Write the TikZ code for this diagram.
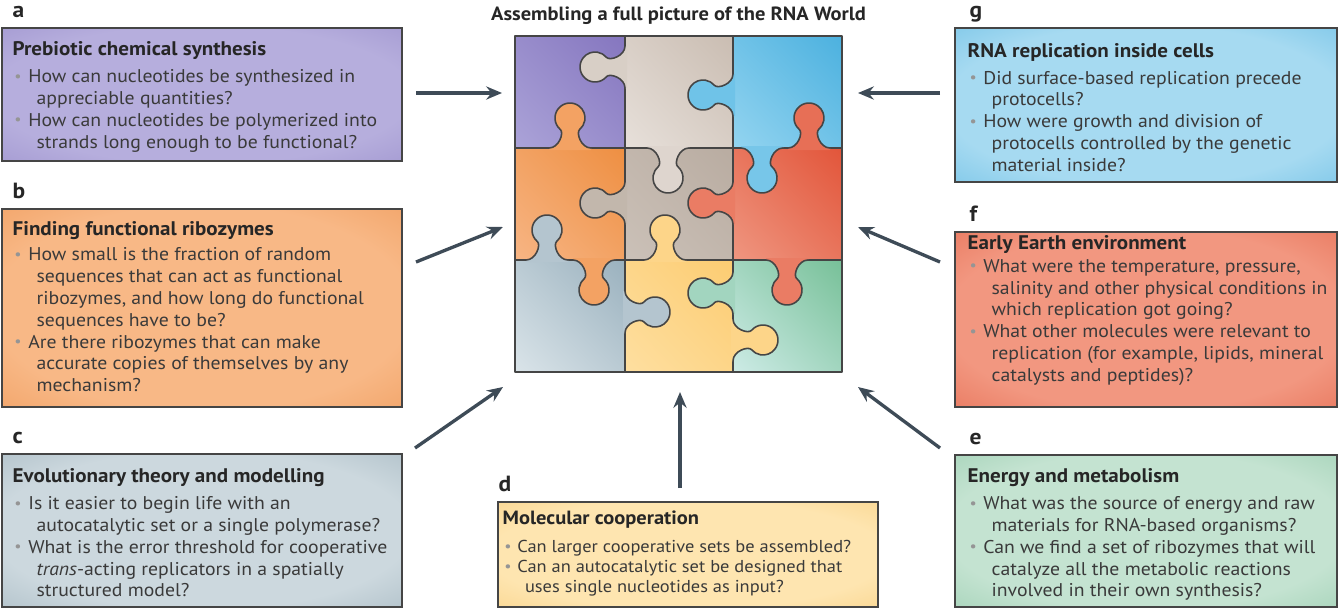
\documentclass[tikz,border=0pt]{standalone}
\usepackage{fontspec}
\setmainfont[FakeStretch=1.07]{PT Sans}
\usepackage{xcolor}
\definecolor{ink}{HTML}{262626}
\definecolor{bodyink}{HTML}{3A3A3A}
\definecolor{dotgray}{HTML}{959595}
\definecolor{rim}{HTML}{454545}
\definecolor{arrowgray}{HTML}{3E4B57}
% question boxes: centre / rim
\definecolor{purpleA}{HTML}{B6AEDD}\definecolor{purpleB}{HTML}{9185C6}
\definecolor{orangeA}{HTML}{F8B886}\definecolor{orangeB}{HTML}{EB8F4A}
\definecolor{slateA}{HTML}{CCD8DE}\definecolor{slateB}{HTML}{94A9B4}
\definecolor{yellowA}{HTML}{FEE5B0}\definecolor{yellowB}{HTML}{F6C872}
\definecolor{greenA}{HTML}{C4E3D1}\definecolor{greenB}{HTML}{88C4A2}
\definecolor{redA}{HTML}{F29780}\definecolor{redB}{HTML}{DF5A3E}
\definecolor{skyA}{HTML}{A6DAF1}\definecolor{skyB}{HTML}{56B4E0}
% puzzle cells: lower left / upper right
\definecolor{tlA}{HTML}{ABA3D8}\definecolor{tlB}{HTML}{8576BF}
\definecolor{tmA}{HTML}{E7E0DA}\definecolor{tmB}{HTML}{CABDB2}
\definecolor{trA}{HTML}{93D4F0}\definecolor{trB}{HTML}{4CB1DF}
\definecolor{mlA}{HTML}{F7B584}\definecolor{mlB}{HTML}{EE8F42}
\definecolor{mmA}{HTML}{CBC1B8}\definecolor{mmB}{HTML}{B9ACA1}
\definecolor{mrA}{HTML}{EF9680}\definecolor{mrB}{HTML}{E2553A}
\definecolor{blA}{HTML}{DAE4E9}\definecolor{blB}{HTML}{9AB1BE}
\definecolor{bmA}{HTML}{FEDFA0}\definecolor{bmB}{HTML}{FCCC72}
\definecolor{brA}{HTML}{CDEBE6}\definecolor{brB}{HTML}{77C098}
\usepackage{tikz}
\usetikzlibrary{positioning,arrows.meta,shadings}

% light middle, darker rim
\newcommand{\glow}[3]{\pgfdeclareradialshading{#1}{\pgfpointorigin}%
  {color(0bp)=(#2); color(26bp)=(#2); color(50bp)=(#3); color(72bp)=(#3)}}
\glow{glowa}{purpleA}{purpleB}
\glow{glowb}{orangeA}{orangeB}
\glow{glowc}{slateA}{slateB}
\glow{glowd}{yellowA}{yellowB}
\glow{glowe}{greenA}{greenB}
\glow{glowf}{redA}{redB}
\glow{glowg}{skyA}{skyB}

\newcommand{\qdot}{\makebox[0.85em][l]{\hspace{0.1em}\raisebox{0.15ex}{\color{dotgray}\fontsize{8.5}{8}\selectfont\textbullet}}}
\newcommand{\qind}{\hspace*{1.3em}}
\newcommand{\qhead}[1]{\textcolor{ink}{\fontsize{11.2}{12.4}\selectfont\bfseries #1}}
% one tab of a puzzle piece: x, y on the seam, rotation, fill
\newcommand{\knob}[4]{%
  \begin{scope}[shift={(#1,#2)}, rotate=#3]
    \fill[#4] (-0.42,-0.04) -- (-0.42,0) .. controls (-0.22,0) and (-0.116,0.306) .. (-0.193,0.37)
      arc[start angle=230, end angle=-50, radius=0.3]
      .. controls (0.116,0.306) and (0.22,0) .. (0.42,0) -- (0.42,-0.04) -- cycle;
    \draw[piece] (-0.42,0) .. controls (-0.22,0) and (-0.116,0.306) .. (-0.193,0.37)
      arc[start angle=230, end angle=-50, radius=0.3]
      .. controls (0.116,0.306) and (0.22,0) .. (0.42,0);
  \end{scope}}

\begin{document}
\begin{tikzpicture}[
  font=\fontsize{10.5}{12.4}\selectfont,
  qbox/.style={draw=rim, line width=0.8pt, inner sep=0pt, shade},
  qtext/.style={anchor=north west, align=left, inner sep=0pt, text=bodyink},
  tag/.style={inner sep=0pt, text depth=0pt, font=\fontsize{12.5}{14}\selectfont\bfseries, text=ink},
  piece/.style={draw=rim, line width=0.9pt, line join=round},
  link/.style={-{Stealth[length=9pt,width=7.5pt,inset=3pt]}, arrowgray, line width=1.9pt}
]
  \useasboundingbox (0,0) rectangle (26.76,-12.18);

  \node[anchor=base, font=\fontsize{10.9}{12}\selectfont\bfseries, text=ink] (title) at (13.57,-0.40)
       {Assembling a full picture of the RNA World};

  % puzzle squares
  \shade[lower left=tlA, upper right=tlB, upper left=tlA!50!tlB, lower right=tlA!50!tlB] (10.30,-2.96) rectangle (12.50,-0.72);
  \shade[lower left=tmA, upper right=tmB, upper left=tmA!50!tmB, lower right=tmA!50!tmB] (12.50,-2.96) rectangle (14.66,-0.72);
  \shade[lower left=trA, upper right=trB, upper left=trA!50!trB, lower right=trA!50!trB] (14.66,-2.96) rectangle (16.84,-0.72);
  \shade[lower left=mlA, upper right=mlB, upper left=mlA!50!mlB, lower right=mlA!50!mlB] (10.30,-5.20) rectangle (12.50,-2.96);
  \shade[lower left=mmA, upper right=mmB, upper left=mmA!50!mmB, lower right=mmA!50!mmB] (12.50,-5.20) rectangle (14.66,-2.96);
  \shade[lower left=mrA, upper right=mrB, upper left=mrA!50!mrB, lower right=mrA!50!mrB] (14.66,-5.20) rectangle (16.84,-2.96);
  \shade[lower left=blA, upper right=blB, upper left=blA!50!blB, lower right=blA!50!blB] (10.30,-7.44) rectangle (12.50,-5.20);
  \shade[lower left=bmA, upper right=bmB, upper left=bmA!50!bmB, lower right=bmA!50!bmB] (12.50,-7.44) rectangle (14.66,-5.20);
  \shade[lower left=brA, upper right=brB, upper left=brA!50!brB, lower right=brA!50!brB] (14.66,-7.44) rectangle (16.84,-5.20);

  \draw[piece] (12.50,-0.72) -- (12.50,-7.44);
  \draw[piece] (14.66,-0.72) -- (14.66,-7.44);
  \draw[piece] (10.30,-2.96) -- (16.84,-2.96);
  \draw[piece] (10.30,-5.20) -- (16.84,-5.20);
  \draw[piece] (10.30,-0.72) rectangle (16.84,-7.44);

  % tabs
  \knob{12.50}{-1.34}{90}{tmA!50!tmB}
  \knob{11.40}{-2.96}{0}{mlA!50!mlB}
  \knob{13.36}{-2.96}{180}{tmA!70!tmB}
  \knob{14.66}{-1.90}{90}{trA!50!trB}
  \knob{15.24}{-2.96}{180}{trA!60!trB}
  \knob{16.18}{-2.96}{0}{mrA!40!mrB}
  \knob{12.50}{-4.06}{90}{mmA!50!mmB}
  \knob{14.66}{-4.06}{90}{mrA!60!mrB}
  \knob{10.94}{-5.20}{0}{blA!40!blB}
  \knob{11.88}{-5.20}{180}{mlA!50!mlB}
  \knob{13.30}{-5.20}{0}{bmA!50!bmB}
  \knob{12.50}{-6.24}{-90}{blA!40!blB}
  \knob{14.66}{-5.86}{90}{brA!50!brB}
  \knob{14.66}{-6.80}{-90}{bmA!50!bmB}
  \knob{15.74}{-5.20}{180}{mrA!60!mrB}

  % question boxes
  \node[qbox, minimum width=8cm, minimum height=2.66cm, shading=glowa] (boxa) at (4.04,-1.89) {};
  \node[qbox, minimum width=8cm, minimum height=3.96cm, shading=glowb] (boxb) at (4.04,-6.16) {};
  \node[qbox, minimum width=8cm, minimum height=3.06cm, shading=glowc] (boxc) at (4.04,-10.61) {};
  \node[qbox, minimum width=7.6cm, minimum height=2.10cm, shading=glowd] (boxd) at (13.76,-11.09) {};
  \node[qbox, minimum width=7.64cm, minimum height=3.04cm, shading=glowe] (boxe) at (22.92,-10.62) {};
  \node[qbox, minimum width=7.64cm, minimum height=3.50cm, shading=glowf] (boxf) at (22.92,-6.39) {};
  \node[qbox, minimum width=7.64cm, minimum height=3.08cm, shading=glowg] (boxg) at (22.92,-2.10) {};

  \node[tag, above right=0.18cm and 0.22cm of boxa.north west] (taga) {a};
  \node[tag, above right=0.18cm and 0.22cm of boxb.north west] (tagb) {b};
  \node[tag, above right=0.18cm and 0.22cm of boxc.north west] (tagc) {c};
  \node[tag, above right=0.18cm and 0.02cm of boxd.north west] (tagd) {d};
  \node[tag, above right=0.18cm and 0.30cm of boxe.north west] (tage) {e};
  \node[tag, above right=0.18cm and 0.30cm of boxf.north west] (tagf) {f};
  \node[tag, above right=0.18cm and 0.30cm of boxg.north west] (tagg) {g};

  \node[qtext, below right=0.28cm and 0.22cm of boxa.north west] (qa)
       {\qhead{Prebiotic chemical synthesis}\\[3pt]
        \qdot How can nucleotides be synthesized in\\
        \qind appreciable quantities?\\
        \qdot How can nucleotides be polymerized into\\
        \qind strands long enough to be functional?};
  \node[qtext, below right=0.26cm and 0.22cm of boxb.north west] (qb)
       {\qhead{Finding functional ribozymes}\\[2pt]
        \qdot How small is the fraction of random\\
        \qind sequences that can act as functional\\
        \qind ribozymes, and how long do functional\\
        \qind sequences have to be?\\
        \qdot Are there ribozymes that can make\\
        \qind accurate copies of themselves by any\\
        \qind mechanism?};
  \node[qtext, below right=0.30cm and 0.22cm of boxc.north west] (qc)
       {\qhead{Evolutionary theory and modelling}\\[3pt]
        \qdot Is it easier to begin life with an\\
        \qind autocatalytic set or a single polymerase?\\
        \qdot What is the error threshold for cooperative\\
        \qind \textit{trans}-acting replicators in a spatially\\
        \qind structured model?};
  \node[qtext, below right=0.19cm and 0.10cm of boxd.north west, font=\fontsize{9.8}{11.4}\selectfont] (qd)
       {\textcolor{ink}{\fontsize{10.9}{12}\selectfont\bfseries Molecular cooperation}\\[4.5pt]
        \qdot Can larger cooperative sets be assembled?\\
        \qdot Can an autocatalytic set be designed that\\
        \qind uses single nucleotides as input?};
  \node[qtext, below right=0.28cm and 0.26cm of boxe.north west] (qe)
       {\qhead{Energy and metabolism}\\[3pt]
        \qdot What was the source of energy and raw\\
        \qind materials for RNA-based organisms?\\
        \qdot Can we find a set of ribozymes that will\\
        \qind catalyze all the metabolic reactions\\
        \qind involved in their own synthesis?};
  \node[qtext, below right=0.08cm and 0.26cm of boxf.north west] (qf)
       {\qhead{Early Earth environment}\\[0.5pt]
        \qdot What were the temperature, pressure,\\
        \qind salinity and other physical conditions in\\
        \qind which replication got going?\\
        \qdot What other molecules were relevant to\\
        \qind replication (for example, lipids, mineral\\
        \qind catalysts and peptides)?};
  \node[qtext, below right=0.31cm and 0.26cm of boxg.north west] (qg)
       {\qhead{RNA replication inside cells}\\[3pt]
        \qdot Did surface-based replication precede\\
        \qind protocells?\\
        \qdot How were growth and division of\\
        \qind protocells controlled by the genetic\\
        \qind material inside?};

  % arrows into the puzzle
  \coordinate (fromA) at (8.32,-1.86);  \coordinate (toA) at (10.04,-1.86);
  \coordinate (fromB) at (8.32,-5.24);  \coordinate (toB) at (10.06,-4.54);
  \coordinate (fromC) at (8.30,-8.96);  \coordinate (toC) at (10.06,-7.74);
  \coordinate (fromD) at (13.60,-9.76); \coordinate (toD) at (13.60,-7.84);
  \coordinate (fromE) at (18.80,-8.96); \coordinate (toE) at (17.16,-7.74);
  \coordinate (fromF) at (18.80,-5.24); \coordinate (toF) at (17.16,-4.54);
  \coordinate (fromG) at (18.80,-1.86); \coordinate (toG) at (17.16,-1.86);

  \draw[link] (fromA) -- (toA);
  \draw[link] (fromB) -- (toB);
  \draw[link] (fromC) -- (toC);
  \draw[link] (fromD) -- (toD);
  \draw[link] (fromE) -- (toE);
  \draw[link] (fromF) -- (toF);
  \draw[link] (fromG) -- (toG);
\end{tikzpicture}
\end{document}
